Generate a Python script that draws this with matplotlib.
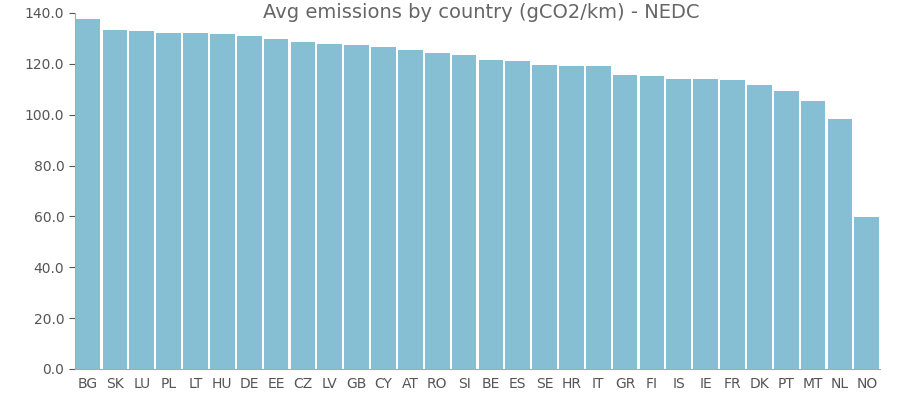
import matplotlib.pyplot as plt
from matplotlib.ticker import FormatStrFormatter

countries = ["BG", "SK", "LU", "PL", "LT", "HU", "DE", "EE", "CZ", "LV",
             "GB", "CY", "AT", "RO", "SI", "BE", "ES", "SE", "HR", "IT",
             "GR", "FI", "IS", "IE", "FR", "DK", "PT", "MT", "NL", "NO"]
emissions = [137.6, 133.3, 132.9, 132.1, 132.0, 131.7, 131.0, 129.8, 128.6, 127.8,
             127.6, 126.8, 125.4, 124.3, 123.5, 121.5, 121.2, 119.7, 119.3, 119.3,
             115.6, 115.3, 114.1, 114.0, 113.7, 111.8, 109.4, 105.3, 98.4, 59.8]

fig = plt.figure(figsize=(9, 4), dpi=100)
ax = fig.add_axes([0.083, 0.0775, 0.895, 0.89])

x = range(len(countries))
ax.bar(x, emissions, width=0.92, color="#86bfd4")
ax.set_xlim(-0.5, len(countries) - 0.5)
ax.set_ylim(0, 140)
ax.set_yticks(range(0, 141, 20))
ax.yaxis.set_major_formatter(FormatStrFormatter("%.1f"))
ax.set_xticks(list(x))
ax.set_xticklabels(countries)

for side in ("top", "right"):
    ax.spines[side].set_visible(False)
for side in ("left", "bottom"):
    ax.spines[side].set_color("#aaaaaa")
ax.tick_params(colors="#555555", labelsize=10, length=4)
ax.tick_params(axis="x", length=0, pad=6)

fig.text(0.535, 0.97, "Avg emissions by country (gCO2/km) - NEDC",
         ha="center", va="center", fontsize=14, color="#666666")

fig.savefig("out.png")
